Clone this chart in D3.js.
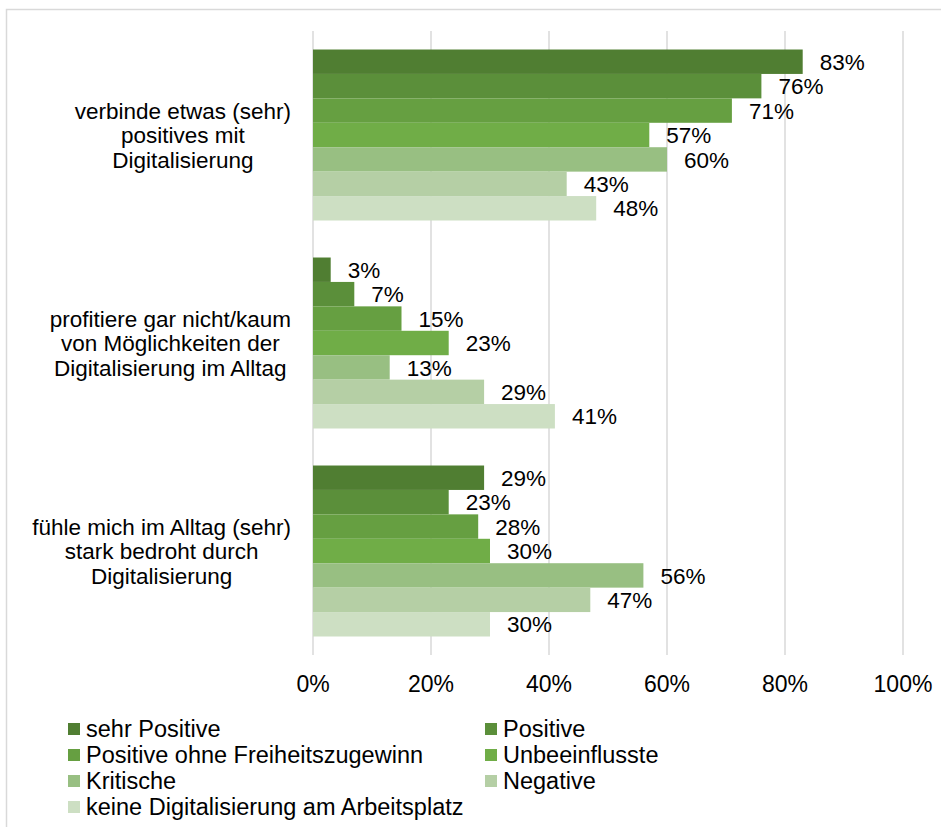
<!DOCTYPE html>
<html>
<head>
<meta charset="utf-8">
<script src="https://cdn.jsdelivr.net/npm/d3@7"></script>
<style>
  body { margin: 0; background: #fff; }
  text { font-family: "Liberation Sans", Arial, sans-serif; fill: #000; }
</style>
</head>
<body>
<script>
const w = 941;
const h = 827;

// categories (each one wrapped onto lines like the original)
const categories = [
  ["verbinde etwas (sehr)", "positives mit", "Digitalisierung"],
  ["profitiere gar nicht/kaum", "von Möglichkeiten der", "Digitalisierung im Alltag"],
  ["fühle mich im Alltag (sehr)", "stark bedroht durch", "Digitalisierung"]
];
const seriesNames = ["sehr Positive", "Positive", "Positive ohne Freiheitszugewinn",
                     "Unbeeinflusste", "Kritische", "Negative",
                     "keine Digitalisierung am Arbeitsplatz"];
const colors = ["#507e32", "#5b8f3a", "#669f41", "#70ad47", "#98bf82", "#b5cfa5", "#cddfc3"];

// values per category, in series order
const verbinde = [83, 76, 71, 57, 60, 43, 48];
const profitiere = [3, 7, 15, 23, 13, 29, 41];
const bedroht = [29, 23, 28, 30, 56, 47, 30];
const values = [verbinde, profitiere, bedroht];

const ticks = [0, 20, 40, 60, 80, 100];

const svg = d3.select('body')
  .append('svg')
  .attr('width', w)
  .attr('height', h);

// outer chart frame (runs off the right/bottom like the screenshot)
svg.append('rect')
  .attr('x', 6.5).attr('y', 9.5)
  .attr('width', 1000).attr('height', 1000)
  .attr('fill', 'none')
  .attr('stroke', '#d9d9d9')
  .attr('stroke-width', 1.5);

const x = d3.scaleLinear().domain([0, 100]).range([313, 903]);
const y0 = d3.scaleBand().domain(d3.range(categories.length)).range([31, 655])
  .paddingInner(0.178).paddingOuter(0.089);
const y1 = d3.scaleBand().domain(d3.range(seriesNames.length)).range([0, y0.bandwidth()]);

// gridlines
svg.append('g')
  .selectAll('line')
  .data(ticks)
  .enter()
  .append('line')
  .attr('x1', d => x(d)).attr('x2', d => x(d))
  .attr('y1', 31).attr('y2', 655)
  .attr('stroke', '#d9d9d9')
  .attr('stroke-width', 1.5);

// tick labels
svg.append('g')
  .selectAll('text')
  .data(ticks)
  .enter()
  .append('text')
  .attr('x', d => x(d))
  .attr('y', 692)
  .attr('text-anchor', 'middle')
  .style('font-size', '23px')
  .text(d => d + '%');

// bars
const groups = svg.selectAll('g.cat')
  .data(values)
  .enter()
  .append('g')
  .attr('class', 'cat')
  .attr('transform', (d, i) => `translate(0,${y0(i)})`);

groups.selectAll('rect')
  .data(d => d)
  .enter()
  .append('rect')
  .attr('x', x(0))
  .attr('y', (d, i) => y1(i))
  .attr('width', d => x(d) - x(0))
  .attr('height', y1.bandwidth())
  .attr('fill', (d, i) => colors[i]);

groups.selectAll('text')
  .data(d => d)
  .enter()
  .append('text')
  .attr('x', d => x(d) + 17)
  .attr('y', (d, i) => y1(i) + y1.bandwidth() / 2)
  .attr('dy', '0.36em')
  .style('font-size', '22.5px')
  .text(d => d + '%');

// category labels, centred lines in a block right-aligned to the axis
const labelRight = 291;
const lineH = 24.5;
categories.forEach((lines, i) => {
  const cy = y0(i) + y0.bandwidth() / 2;
  const g = svg.append('g');
  const t = g.selectAll('text')
    .data(lines)
    .enter()
    .append('text')
    .attr('y', (d, j) => cy + (j - (lines.length - 1) / 2) * lineH)
    .attr('dy', '0.36em')
    .attr('text-anchor', 'middle')
    .style('font-size', '22.5px')
    .text(d => d);
  let maxW = 0;
  t.each(function () { maxW = Math.max(maxW, this.getComputedTextLength()); });
  t.attr('x', labelRight - maxW / 2);
});

// legend, two columns
const legend = svg.append('g')
  .selectAll('g')
  .data(seriesNames)
  .enter()
  .append('g')
  .attr('transform', (d, i) => `translate(${i % 2 === 0 ? 68 : 485},${729 + Math.floor(i / 2) * 26})`);

legend.append('rect')
  .attr('x', 0).attr('y', -6)
  .attr('width', 12).attr('height', 12)
  .attr('fill', (d, i) => colors[i]);

legend.append('text')
  .attr('x', 18)
  .attr('dy', '0.36em')
  .style('font-size', '23.5px')
  .text(d => d);
</script>
</body>
</html>
